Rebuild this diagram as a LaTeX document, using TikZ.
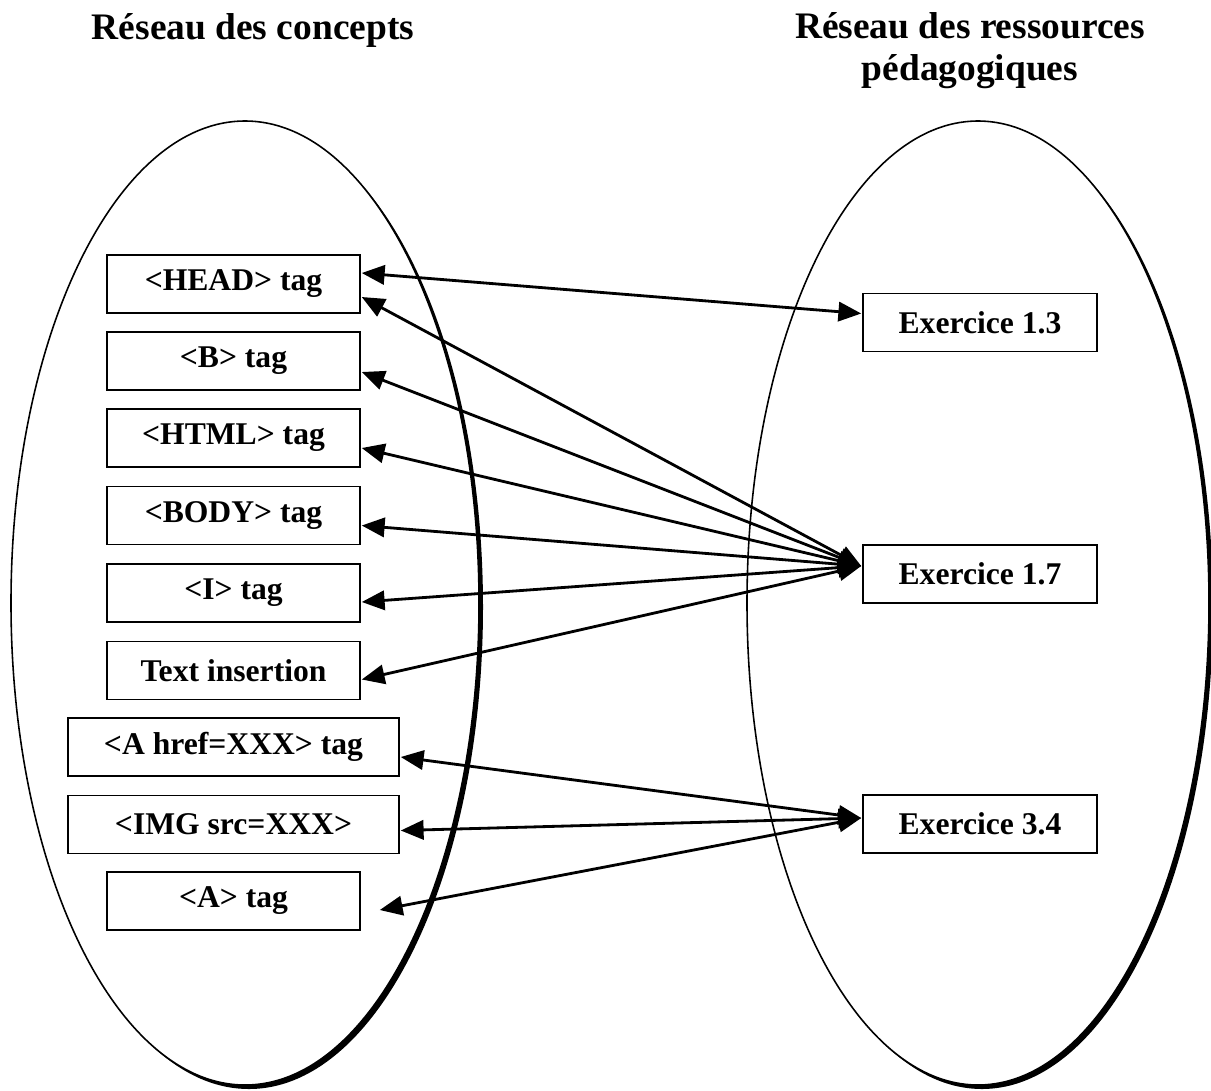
\documentclass[tikz,border=0pt]{standalone}
\usepackage{fontspec}
\setmainfont{Liberation Serif}
\usetikzlibrary{arrows.meta,calc}

\tikzset{
  tagbox/.style={draw=black, line width=0.9pt, fill=white, inner sep=0pt,
    minimum height=1.16cm, font=\fontsize{18}{20}\selectfont\bfseries},
  conceptbox/.style={tagbox, minimum width=5.06cm},
  widebox/.style={tagbox, minimum width=6.62cm},
  resbox/.style={tagbox, minimum width=4.68cm},
  heading/.style={font=\fontsize{21.3}{23.8}\selectfont\bfseries, align=center},
  link/.style={line width=1.6pt, {Triangle[length=13pt,width=11pt]}-{Triangle[length=13pt,width=11pt]}},
  oval rim/.style={draw=black, line width=0.9pt, fill=white}
}

\begin{document}
\begin{tikzpicture}[x=0.02cm, y=-0.02cm]
  \useasboundingbox (0,0) rectangle (1211,1090);

  % headings
  \node[heading] (hconcepts) at (253,30) {Réseau des concepts};
  \node[heading] (hresources) at (970,51) {Réseau des ressources\\pédagogiques};

  % the two networks, with a dark rim on the lower right
  \fill[black] (249,607) ellipse [x radius=234, y radius=482];
  \draw[oval rim] (245,603) ellipse [x radius=234, y radius=482];
  \fill[black] (982,607) ellipse [x radius=231, y radius=482];
  \draw[oval rim] (978,603) ellipse [x radius=231, y radius=482];

  % concepts
  \node[conceptbox] (head) at (233.5,284)   {<HEAD> tag};
  \node[conceptbox] (b)    at (233.5,361)   {<B> tag};
  \node[conceptbox] (html) at (233.5,438)   {<HTML> tag};
  \node[conceptbox] (body) at (233.5,515.5) {<BODY> tag};
  \node[conceptbox] (i)    at (233.5,593)   {<I> tag};
  \node[conceptbox] (text) at (233.5,670.5) {Text insertion};
  \node[widebox]    (ahref) at (233.5,747)  {<A href=XXX> tag};
  \node[widebox]    (img)  at (233.5,824.5) {<IMG src=XXX>};
  \node[conceptbox] (atag) at (233.5,901)   {<A> tag};

  % teaching resources
  \node[resbox] (ex13) at (980,322.5) {Exercice 1.3};
  \node[resbox] (ex17) at (980,574)   {Exercice 1.7};
  \node[resbox] (ex34) at (980,824)   {Exercice 3.4};

  % links between concepts and resources
  \draw[link] ($(head.east)+(1,-11)$) -- ($(ex13.west)+(-1,-9)$);

  \draw[link] ($(head.east)+(1,13)$) -- ($(ex17.west)+(-1,-8)$);
  \draw[link] ($(b.east)+(1,11)$)    -- ($(ex17.west)+(-1,-8)$);
  \draw[link] ($(html.east)+(1,10)$) -- ($(ex17.west)+(-1,-8)$);
  \draw[link] ($(body.east)+(1,10)$) -- ($(ex17.west)+(-1,-8)$);
  \draw[link] ($(i.east)+(1,9)$)     -- ($(ex17.west)+(-1,-8)$);
  \draw[link] ($(text.east)+(1,9)$)  -- ($(ex17.west)+(-1,-8)$);

  \draw[link] ($(ahref.east)+(1,10)$) -- ($(ex34.west)+(-1,-6)$);
  \draw[link] ($(img.east)+(1,6)$)    -- ($(ex34.west)+(-1,-6)$);
  \draw[link] ($(atag.east)+(19,9)$)  -- ($(ex34.west)+(-1,-6)$);
\end{tikzpicture}
\end{document}
